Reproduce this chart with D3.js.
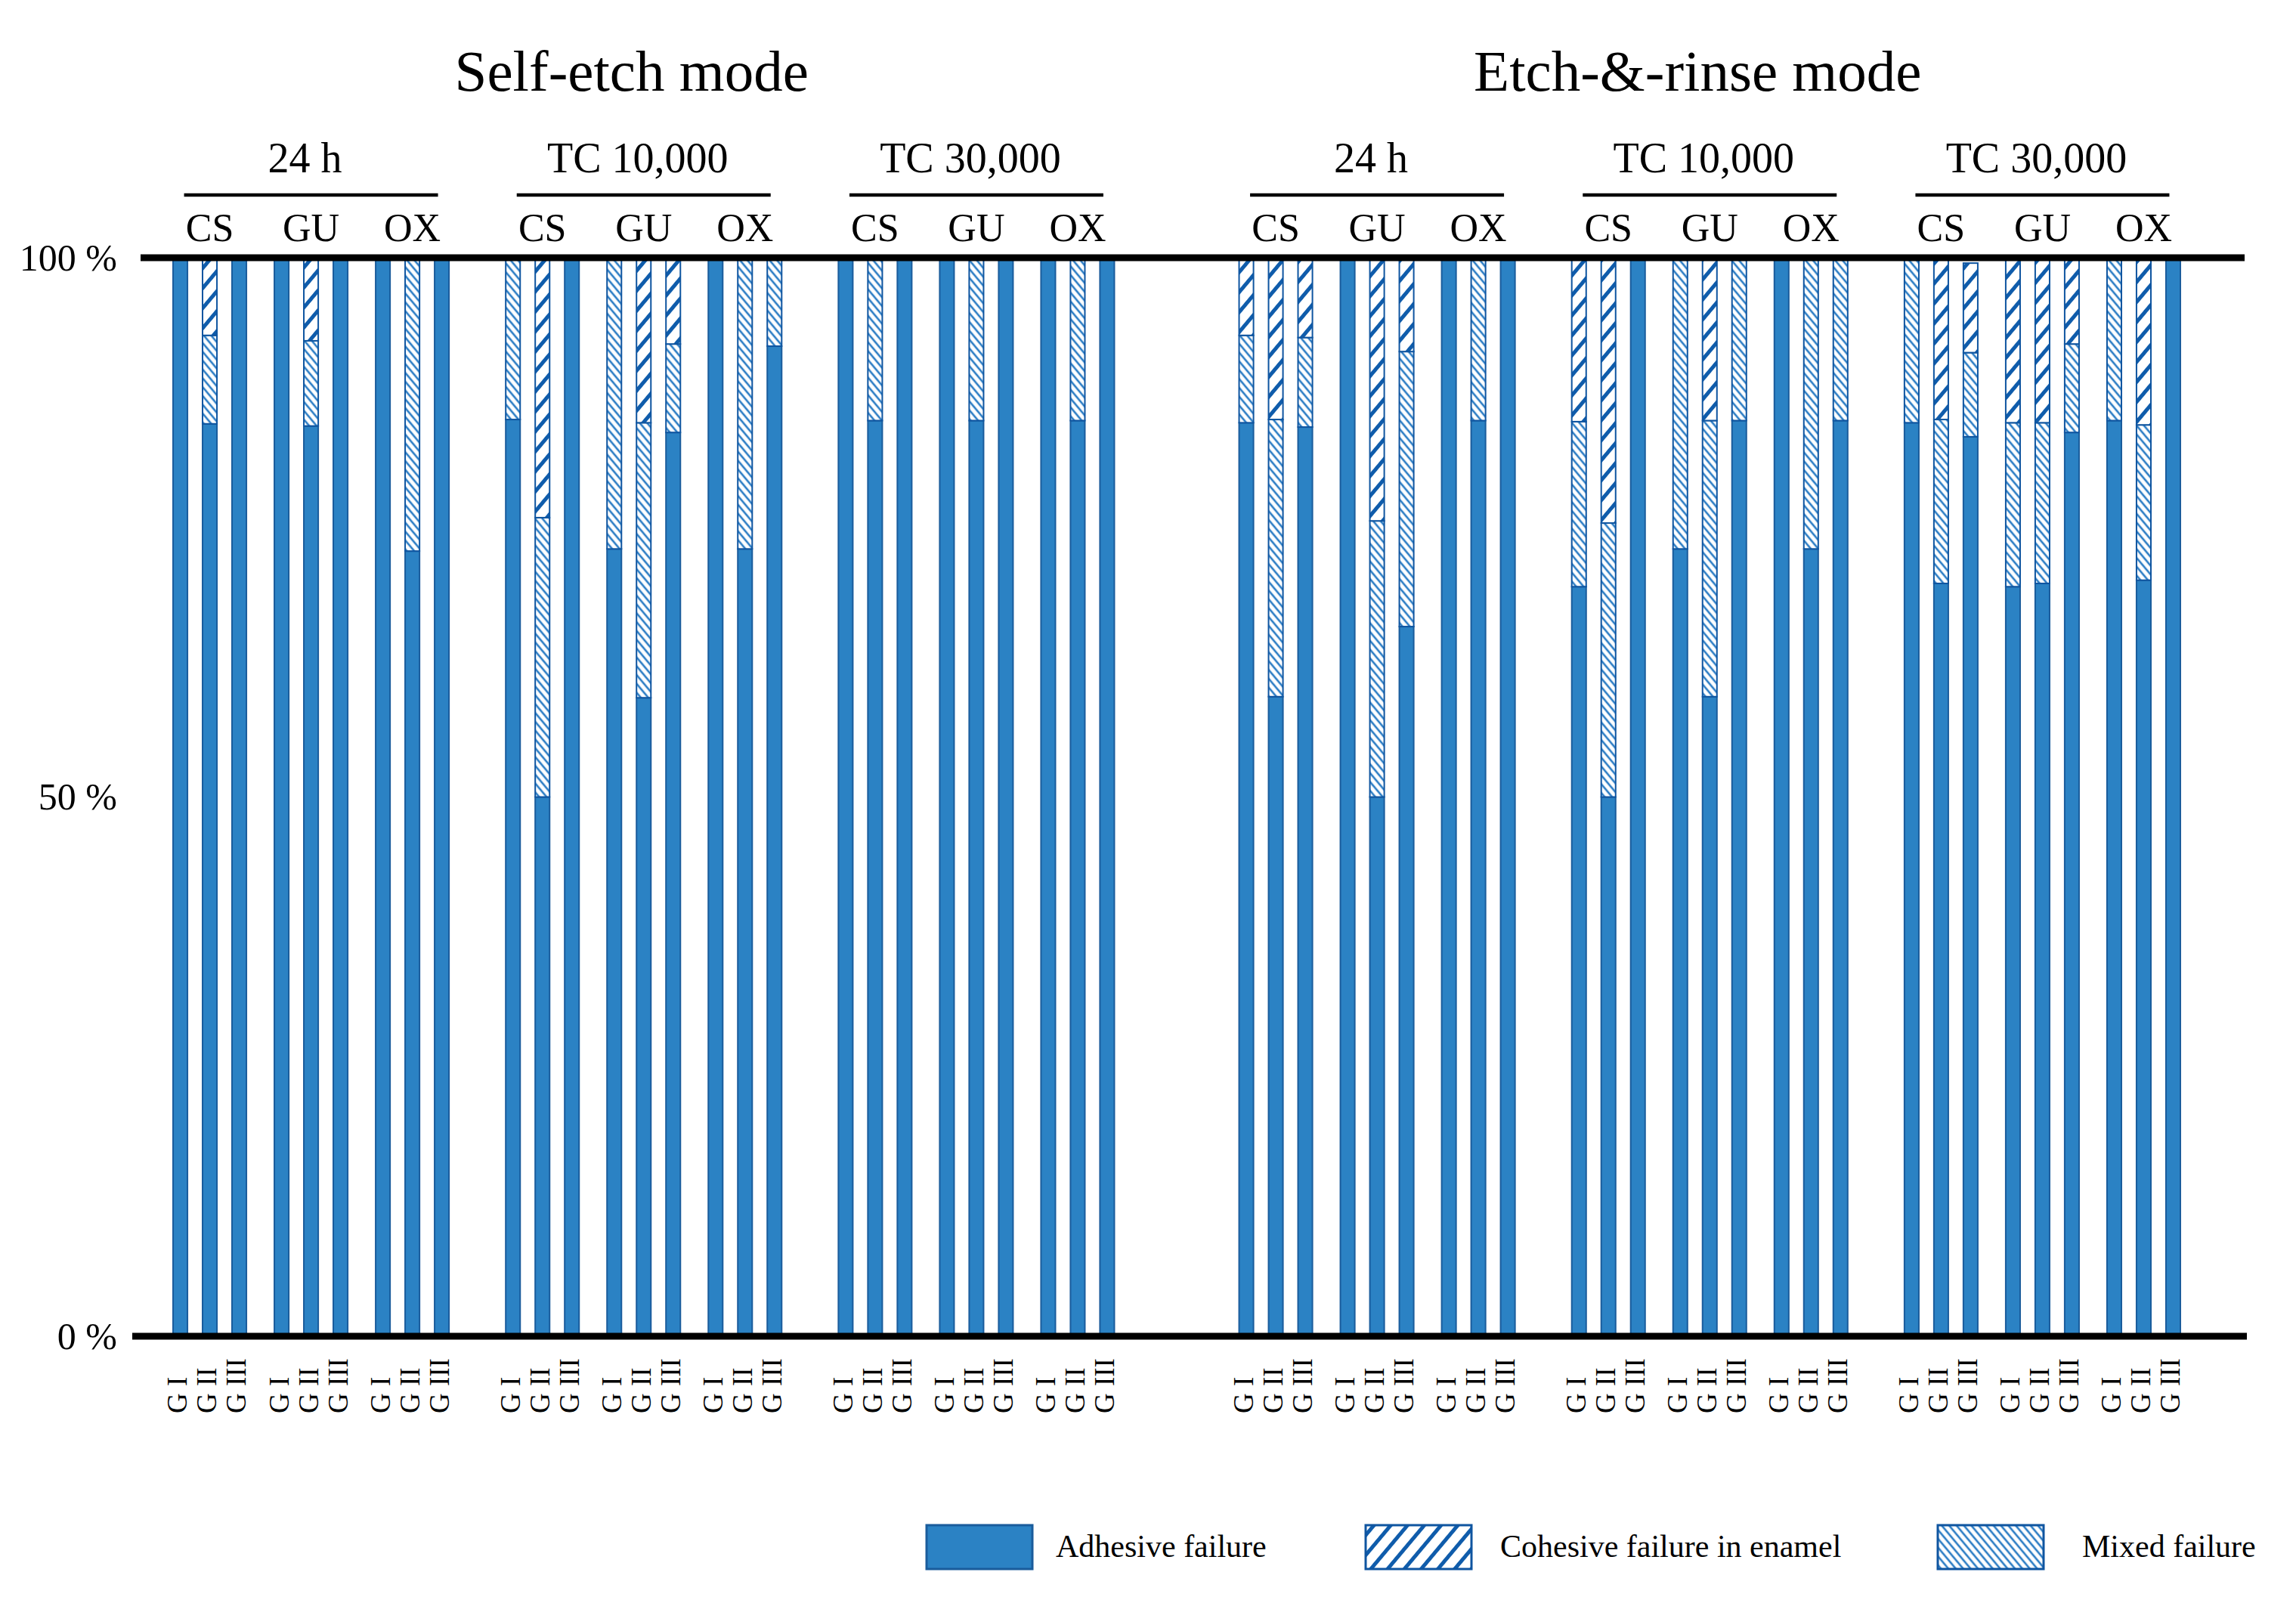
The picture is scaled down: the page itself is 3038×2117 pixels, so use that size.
<!DOCTYPE html>
<html>
<head>
<meta charset="utf-8">
<script src="https://cdn.jsdelivr.net/npm/d3@7"></script>
<style>
  body { margin: 0; background: #fff; }
  text { font-family: "Liberation Serif", "DejaVu Serif", serif; fill: #000; }
</style>
</head>
<body>
<div id="chart"></div>
<script>
const modes = ['Self-etch mode', 'Etch-&-rinse mode'];
const times = ['24 h', 'TC 10,000', 'TC 30,000'];
const materials = ['CS', 'GU', 'OX'];
const groups = ['G I', 'G II', 'G III'];
const failureTypes = ['Adhesive failure', 'Cohesive failure in enamel', 'Mixed failure'];
const yTicks = [0, 50, 100];

// order: mode > time > material > group (3 values per material)
const adhesive = [
  100, 84.6, 100,  100, 84.4, 100,  100, 72.8, 100,   // self-etch 24 h
  85, 50, 100,     73, 59.2, 83.8,  100, 73, 91.8,    // self-etch TC 10,000
  100, 84.9, 100,  100, 84.9, 100,  100, 84.9, 100,   // self-etch TC 30,000
  84.7, 59.3, 84.3, 100, 50, 65.8,  100, 84.9, 100,   // etch-&-rinse 24 h
  69.5, 50, 100,   73, 59.3, 84.9,  100, 73, 84.9,    // etch-&-rinse TC 10,000
  84.7, 69.8, 83.4, 69.5, 69.8, 83.8, 84.9, 70.1, 100 // etch-&-rinse TC 30,000
];
const mixed = [
  0, 8.2, 0,   0, 7.9, 0,   0, 27.2, 0,
  15, 25.9, 0, 27, 25.5, 8.2, 0, 27, 8.2,
  0, 15.1, 0,  0, 15.1, 0,  0, 15.1, 0,
  8.1, 25.7, 8.3, 0, 25.6, 25.5, 0, 15.1, 0,
  15.3, 25.4, 0, 27, 25.6, 15.1, 0, 27, 15.1,
  15.3, 15.2, 7.8, 15.2, 14.9, 8.2, 15.1, 14.4, 0
];
const cohesive = [
  0, 7.2, 0,   0, 7.7, 0,   0, 0, 0,
  0, 24.1, 0,  0, 15.3, 8,  0, 0, 0,
  0, 0, 0,     0, 0, 0,     0, 0, 0,
  7.2, 15, 7.4, 0, 24.4, 8.7, 0, 0, 0,
  15.2, 24.6, 0, 0, 15.1, 0, 0, 0, 0,
  0, 15, 8.3,  15.3, 15.3, 8, 0, 15.5, 0
];

const W = 3038, H = 2117;
const svg = d3.select('#chart').append('svg')
  .attr('width', W)
  .attr('height', H);

const blue = '#2b82c4';
const darkBlue = '#1a5c9c';

// hatch patterns
const defs = svg.append('defs');
const hatch = (id, angle, size, width, color) => {
  const p = defs.append('pattern')
    .attr('id', id)
    .attr('patternUnits', 'userSpaceOnUse')
    .attr('width', size)
    .attr('height', size)
    .attr('patternTransform', `rotate(${angle})`);
  p.append('rect').attr('width', size).attr('height', size).attr('fill', '#fff');
  p.append('line')
    .attr('x1', size / 2).attr('y1', 0)
    .attr('x2', size / 2).attr('y2', size)
    .attr('stroke', color)
    .attr('stroke-width', width);
};
hatch('cohesiveHatch', 40, 17, 5, '#0f5cab');
hatch('mixedHatch', -40, 7.5, 2.6, '#2a7cc4');

const fills = {
  adhesive: blue,
  cohesive: 'url(#cohesiveHatch)',
  mixed: 'url(#mixedHatch)'
};

const rows = adhesive.map((a, i) => ({
  mode: modes[Math.floor(i / 27)],
  time: times[Math.floor(i / 9) % 3],
  material: materials[Math.floor(i / 3) % 3],
  group: groups[i % 3],
  adhesive: a,
  mixed: mixed[i],
  cohesive: cohesive[i]
}));

const xMode = d3.scaleBand().domain(modes).range([228, 2886]).paddingInner(0.1156);
const xTime = d3.scaleBand().domain(times).range([0, xMode.bandwidth()]).paddingInner(0.166);
const xMat = d3.scaleBand().domain(materials).range([0, xTime.bandwidth()]).paddingInner(0.261);
const xGrp = d3.scaleBand().domain(groups).range([0, xMat.bandwidth()]).paddingInner(0.46);
const xBar = d => xMode(d.mode) + xTime(d.time) + xMat(d.material) + xGrp(d.group);

const y = d3.scaleLinear().domain([0, 100]).range([1768, 341]);

const stack = d3.stack().keys(['adhesive', 'mixed', 'cohesive']);
const series = stack(rows);

const bars = svg.append('g');
series.forEach(s => {
  bars.append('g')
    .selectAll('rect')
    .data(s.filter(d => d[1] - d[0] > 0))
    .join('rect')
    .attr('x', d => xBar(d.data) + 1)
    .attr('width', xGrp.bandwidth() - 2)
    .attr('y', d => y(d[1]))
    .attr('height', d => y(d[0]) - y(d[1]))
    .attr('fill', fills[s.key])
    .attr('stroke', s.key === 'adhesive' ? darkBlue : '#0f55a0')
    .attr('stroke-width', 2);
});

// top and bottom rules
svg.append('line')
  .attr('x1', 186).attr('x2', 2970)
  .attr('y1', y(100)).attr('y2', y(100))
  .attr('stroke', '#000').attr('stroke-width', 9);
svg.append('line')
  .attr('x1', 175).attr('x2', 2973)
  .attr('y1', y(0)).attr('y2', y(0))
  .attr('stroke', '#000').attr('stroke-width', 9);

// y axis labels
const yAxis = svg.append('g')
  .attr('transform', 'translate(165,0)')
  .call(d3.axisLeft(y).tickValues(yTicks).tickSize(0).tickPadding(10).tickFormat(d => `${d} %`));
yAxis.select('.domain').remove();
yAxis.selectAll('text')
  .style('font-family', '"Liberation Serif", serif')
  .style('font-size', '50px')
  .attr('fill', '#000');

// group labels under bars
svg.append('g')
  .selectAll('text')
  .data(rows)
  .join('text')
  .attr('transform', d => `translate(${xBar(d) + xGrp.bandwidth() / 2 - 4},1870) rotate(-90)`)
  .attr('dy', '0.35em')
  .attr('text-anchor', 'start')
  .style('font-size', '37px')
  .text(d => d.group);

// material labels
const matCells = d3.cross(modes, times, materials);
svg.append('g')
  .selectAll('text')
  .data(matCells)
  .join('text')
  .attr('x', ([m, t, c]) => xMode(m) + xTime(t) + xMat(c) + xMat.bandwidth() / 2)
  .attr('y', 319)
  .attr('text-anchor', 'middle')
  .style('font-size', '52px')
  .text(d => d[2]);

// time labels with rules
const timeCells = d3.cross(modes, times);
const timeG = svg.append('g')
  .selectAll('g')
  .data(timeCells)
  .join('g')
  .attr('transform', ([m, t]) => `translate(${xMode(m) + xTime(t) + xTime.bandwidth() / 2},0)`);
timeG.append('text')
  .attr('x', -8)
  .attr('y', 228)
  .attr('text-anchor', 'middle')
  .style('font-size', '56px')
  .text(d => d[1]);
timeG.append('line')
  .attr('x1', -168).attr('x2', 168)
  .attr('y1', 258).attr('y2', 258)
  .attr('stroke', '#000').attr('stroke-width', 4.5);

// mode titles
svg.append('g')
  .selectAll('text')
  .data(modes)
  .join('text')
  .attr('x', d => xMode(d) + xMode.bandwidth() / 2 - 16)
  .attr('y', 120)
  .attr('text-anchor', 'middle')
  .style('font-size', '77px')
  .text(d => d);

// legend
const legendX = [1226, 1807, 2564];
const legendFill = [fills.adhesive, fills.cohesive, fills.mixed];
const legend = svg.append('g')
  .selectAll('g')
  .data(failureTypes)
  .join('g')
  .attr('transform', (d, i) => `translate(${legendX[i]},2018)`);
legend.append('rect')
  .attr('width', 140)
  .attr('height', 58)
  .attr('fill', (d, i) => legendFill[i])
  .attr('stroke', (d, i) => i === 0 ? darkBlue : '#0f55a0')
  .attr('stroke-width', 3);
legend.append('text')
  .attr('x', (d, i) => [171, 178, 191][i])
  .attr('y', 42)
  .style('font-size', '42px')
  .text(d => d);
</script>
</body>
</html>
